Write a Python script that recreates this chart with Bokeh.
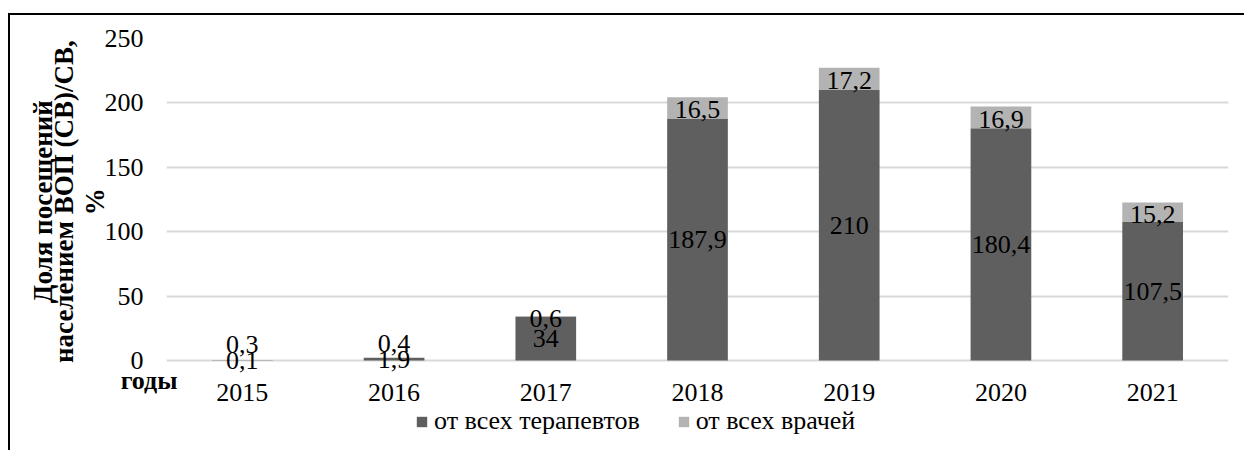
from bokeh.plotting import figure
from bokeh.models import (ColumnDataSource, Legend, LegendItem, Range1d, FactorRange,
                          LinearAxis, FixedTicker)
from bokeh.core.properties import value
from bokeh.embed import file_html
from bokeh.resources import INLINE

years = ["2015", "2016", "2017", "2018", "2019", "2020", "2021"]
therapists = [0.1, 1.9, 34, 187.9, 210, 180.4, 107.5]
all_doctors = [0.3, 0.4, 0.6, 16.5, 17.2, 16.9, 15.2]
y_ticks = [0, 50, 100, 150, 200, 250]

series_names = ["от всех терапевтов", "от всех врачей"]
y_title_lines = ["Доля посещений", "населением ВОП (СВ)/СВ,", "%"]
x_title = "годы"

DARK = "#5f5f5f"
LIGHT = "#b3b3b3"
FONT = "Liberation Serif"

# layout (pixels)
TOP_PX, ZERO_PX, BOTTOM_PX = 38, 360, 452
Y_MAX = 250
units_per_px = Y_MAX / (ZERO_PX - TOP_PX)
y_start = -(BOTTOM_PX - ZERO_PX) * units_per_px
x_title_y = -(380 - ZERO_PX) * units_per_px
PAD = "\u00a0" * 13  # lifts the rotated title to the centre of the value area

def fmt(v):
    return ("%g" % v).replace(".", ",")

src = ColumnDataSource(dict(
    year=years, t=therapists, d=all_doctors,
    t_y=[v / 2 for v in therapists],
    d_y=[max(a + b / 2, a / 2 + 14) for a, b in zip(therapists, all_doctors)],
    t_lbl=[fmt(v) for v in therapists],
    d_lbl=[fmt(v) for v in all_doctors],
    zero=[0] * len(years),
))

p = figure(x_range=FactorRange(*years), y_range=Range1d(y_start, Y_MAX),
           width=1236, height=437, output_backend="svg", toolbar_location=None,
           x_axis_location=None,
           min_border_left=156, min_border_right=18, min_border_top=23, min_border_bottom=0)
p.styles = {"border-top": "2px solid black", "border-left": "2px solid black",
            "margin-left": "8px", "margin-top": "13px"}
p.outline_line_color = None

r = p.vbar_stack(["t", "d"], x="year", width=0.4, source=src,
                 color=[DARK, LIGHT], line_color=None)

txt = dict(source=src, text_align="center", text_baseline="middle",
           text_font=value(FONT), text_font_size="26px", text_color="black")
p.text(x="year", y="t_y", text="t_lbl", **txt)
p.text(x="year", y="d_y", text="d_lbl", y_offset=2, **txt)
p.text(x="year", y="zero", text="year", y_offset=32, **txt)

main = p.yaxis[0]
main.ticker = FixedTicker(ticks=y_ticks)
main.axis_line_color = None
main.major_tick_line_color = None
main.minor_tick_line_color = None
main.major_tick_out = 0
main.major_tick_in = 0
main.minor_tick_out = 0
main.major_label_text_font = FONT
main.major_label_text_font_size = "26px"
main.major_label_text_color = "black"
main.major_label_standoff = -26
for g in p.grid:
    if g.dimension == 0:
        g.visible = False
    else:
        g.grid_line_color = "#d9d9d9"
        g.grid_line_width = 2

def style_title(ax, text, standoff):
    ax.axis_label = PAD + text
    ax.axis_label_text_font = FONT
    ax.axis_label_text_font_size = "27px"
    ax.axis_label_text_font_style = "bold"
    ax.axis_label_text_color = "black"
    ax.axis_label_standoff = standoff

style_title(main, y_title_lines[2], -8)

def bare_axis():
    return LinearAxis(ticker=FixedTicker(ticks=[]), axis_line_color=None,
                      major_tick_line_color=None, minor_tick_line_color=None,
                      major_tick_out=0, major_tick_in=0, minor_tick_out=0,
                      major_label_text_font_size="0px", major_label_standoff=0)

ax2 = bare_axis()
style_title(ax2, y_title_lines[1], -2)
ax1 = bare_axis()
style_title(ax1, y_title_lines[0], -12)

years_axis = LinearAxis(ticker=FixedTicker(ticks=[x_title_y]),
                        major_label_overrides={x_title_y: x_title},
                        axis_line_color=None, major_tick_line_color=None,
                        minor_tick_line_color=None, major_tick_out=0, major_tick_in=0,
                        minor_tick_out=0, major_label_standoff=-11,
                        major_label_text_font=FONT, major_label_text_font_size="26px",
                        major_label_text_font_style="bold", major_label_text_color="black")

p.left = [years_axis, main, ax2, ax1]

legend = Legend(items=[LegendItem(label=series_names[0], renderers=[r[0]]),
                       LegendItem(label=series_names[1], renderers=[r[1]])],
                orientation="horizontal", location=(249, 16),
                label_text_font=FONT, label_text_font_size="26px",
                label_text_color="black",
                glyph_width=13, glyph_height=13, label_standoff=6, spacing=37,
                border_line_color=None, background_fill_alpha=0, padding=0, margin=0)
p.add_layout(legend)

open("out.html", "w").write(file_html(p, INLINE))
